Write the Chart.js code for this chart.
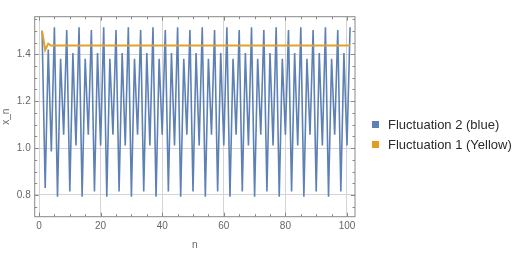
<!DOCTYPE html>
<html>
<head>
<meta charset="utf-8">
<script src="https://cdn.jsdelivr.net/npm/chart.js@4"></script>
<style>
  body { margin: 0; background: #fff; }
  #wrap { position: relative; width: 530px; height: 259px; }
  .key { position: absolute; left: 372px; font: 13px "Liberation Sans", Arial, sans-serif; color: #2a2a2a; white-space: nowrap; }
  .key span { display: inline-block; width: 7px; height: 7px; margin-right: 9px; vertical-align: 1px; }
</style>
</head>
<body>
<div id="wrap">
  <canvas id="grafico" width="530" height="259"></canvas>
  <div class="key" style="top:117px"><span style="background:#5e81b5"></span>Fluctuation 2 (blue)</div>
  <div class="key" style="top:137px"><span style="background:#e19c24"></span>Fluctuation 1 (Yellow)</div>
</div>
<script>
// n = 1 .. 101
const pasos = Array.from({ length: 101 }, (_, i) => i + 1);

const fluctuacion2 = [
  1.500, 0.830, 1.420, 0.985,
  1.515, 0.793, 1.381, 1.057, 1.503, 0.815, 1.405, 1.011,
  1.515, 0.793, 1.381, 1.057, 1.503, 0.815, 1.405, 1.011,
  1.515, 0.793, 1.381, 1.057, 1.503, 0.815, 1.405, 1.011,
  1.515, 0.793, 1.381, 1.057, 1.503, 0.815, 1.405, 1.011,
  1.515, 0.793, 1.381, 1.057, 1.503, 0.815, 1.405, 1.011,
  1.515, 0.793, 1.381, 1.057, 1.503, 0.815, 1.405, 1.011,
  1.515, 0.793, 1.381, 1.057, 1.503, 0.815, 1.405, 1.011,
  1.515, 0.793, 1.381, 1.057, 1.503, 0.815, 1.405, 1.011,
  1.515, 0.793, 1.381, 1.057, 1.503, 0.815, 1.405, 1.011,
  1.515, 0.793, 1.381, 1.057, 1.503, 0.815, 1.405, 1.011,
  1.515, 0.793, 1.381, 1.057, 1.503, 0.815, 1.405, 1.011,
  1.515, 0.793, 1.381, 1.057, 1.503, 0.815, 1.405, 1.011,
  1.515
];

const fluctuacion1 = [
  1.500, 1.418, 1.445, 1.436, 1.438, 1.437, 1.437, 1.437, 1.437, 1.437,
  1.437, 1.437, 1.437, 1.437, 1.437, 1.437, 1.437, 1.437, 1.437, 1.437,
  1.437, 1.437, 1.437, 1.437, 1.437, 1.437, 1.437, 1.437, 1.437, 1.437,
  1.437, 1.437, 1.437, 1.437, 1.437, 1.437, 1.437, 1.437, 1.437, 1.437,
  1.437, 1.437, 1.437, 1.437, 1.437, 1.437, 1.437, 1.437, 1.437, 1.437,
  1.437, 1.437, 1.437, 1.437, 1.437, 1.437, 1.437, 1.437, 1.437, 1.437,
  1.437, 1.437, 1.437, 1.437, 1.437, 1.437, 1.437, 1.437, 1.437, 1.437,
  1.437, 1.437, 1.437, 1.437, 1.437, 1.437, 1.437, 1.437, 1.437, 1.437,
  1.437, 1.437, 1.437, 1.437, 1.437, 1.437, 1.437, 1.437, 1.437, 1.437,
  1.437, 1.437, 1.437, 1.437, 1.437, 1.437, 1.437, 1.437, 1.437, 1.437,
  1.437
];

const ticksX = [0, 20, 40, 60, 80, 100];
const ticksY = [0.8, 1.0, 1.2, 1.4];

const fuente = { family: '"Liberation Sans", Arial, sans-serif', size: 10 };

// marco con marcas hacia dentro, estilo Mathematica
const marco = {
  id: 'marco',
  afterDatasetsDraw(chart) {
    const { ctx, chartArea: a, scales } = chart;
    ctx.save();
    ctx.strokeStyle = '#888';
    ctx.lineWidth = 1;
    ctx.strokeRect(a.left, a.top, a.right - a.left, a.bottom - a.top);
    ctx.beginPath();
    for (let v = 0; v <= 100; v += 5) {
      const x = Math.round(scales.x.getPixelForValue(v)) + 0.5;
      const l = v % 20 === 0 ? 4 : 2.5;
      ctx.moveTo(x, a.bottom); ctx.lineTo(x, a.bottom - l);
      ctx.moveTo(x, a.top); ctx.lineTo(x, a.top + l);
    }
    for (let k = 15; k <= 31; k++) {
      const v = k * 0.05;
      const y = Math.round(scales.y.getPixelForValue(v)) + 0.5;
      const l = k % 4 === 0 ? 4 : 2.5;
      ctx.moveTo(a.left, y); ctx.lineTo(a.left + l, y);
      ctx.moveTo(a.right, y); ctx.lineTo(a.right - l, y);
    }
    ctx.stroke();
    ctx.restore();
  }
};

new Chart(document.getElementById('grafico').getContext('2d'), {
  type: 'line',
  data: {
    datasets: [
      {
        label: 'Fluctuation 2 (blue)',
        data: pasos.map((n, i) => ({ x: n, y: fluctuacion2[i] })),
        borderColor: '#5e81b5',
        borderWidth: 1.6,
        pointRadius: 0,
        fill: false,
        order: 1
      },
      {
        label: 'Fluctuation 1 (Yellow)',
        data: pasos.map((n, i) => ({ x: n, y: fluctuacion1[i] })),
        borderColor: '#e0a22c',
        borderWidth: 2,
        pointRadius: 0,
        fill: false,
        order: 0
      }
    ]
  },
  options: {
    responsive: false,
    animation: false,
    layout: { padding: { top: 16.7, right: 175, bottom: 0, left: 0 } },
    plugins: { legend: { display: false }, tooltip: { enabled: false } },
    scales: {
      x: {
        type: 'linear',
        min: -1.4,
        max: 102.6,
        afterBuildTicks: s => { s.ticks = ticksX.map(v => ({ value: v })); },
        afterFit: s => { s.height = 42.3; },
        grid: { color: '#d4d4d4', drawTicks: false },
        border: { display: false },
        ticks: { color: '#666', font: fuente, padding: 4, maxRotation: 0 },
        title: { display: true, text: 'n', color: '#666', font: fuente, padding: { top: 0, bottom: 8 } }
      },
      y: {
        min: 0.7075,
        max: 1.56,
        afterBuildTicks: s => { s.ticks = ticksY.map(v => ({ value: v })); },
        afterFit: s => { s.width = 34.7; },
        grid: { color: '#d4d4d4', drawTicks: false },
        border: { display: false },
        ticks: { color: '#666', font: fuente, padding: 4, callback: v => v.toFixed(1) },
        title: { display: true, text: 'x_n', color: '#666', font: fuente, padding: { top: 0, bottom: 0 } }
      }
    }
  },
  plugins: [marco]
});
</script>
</body>
</html>
